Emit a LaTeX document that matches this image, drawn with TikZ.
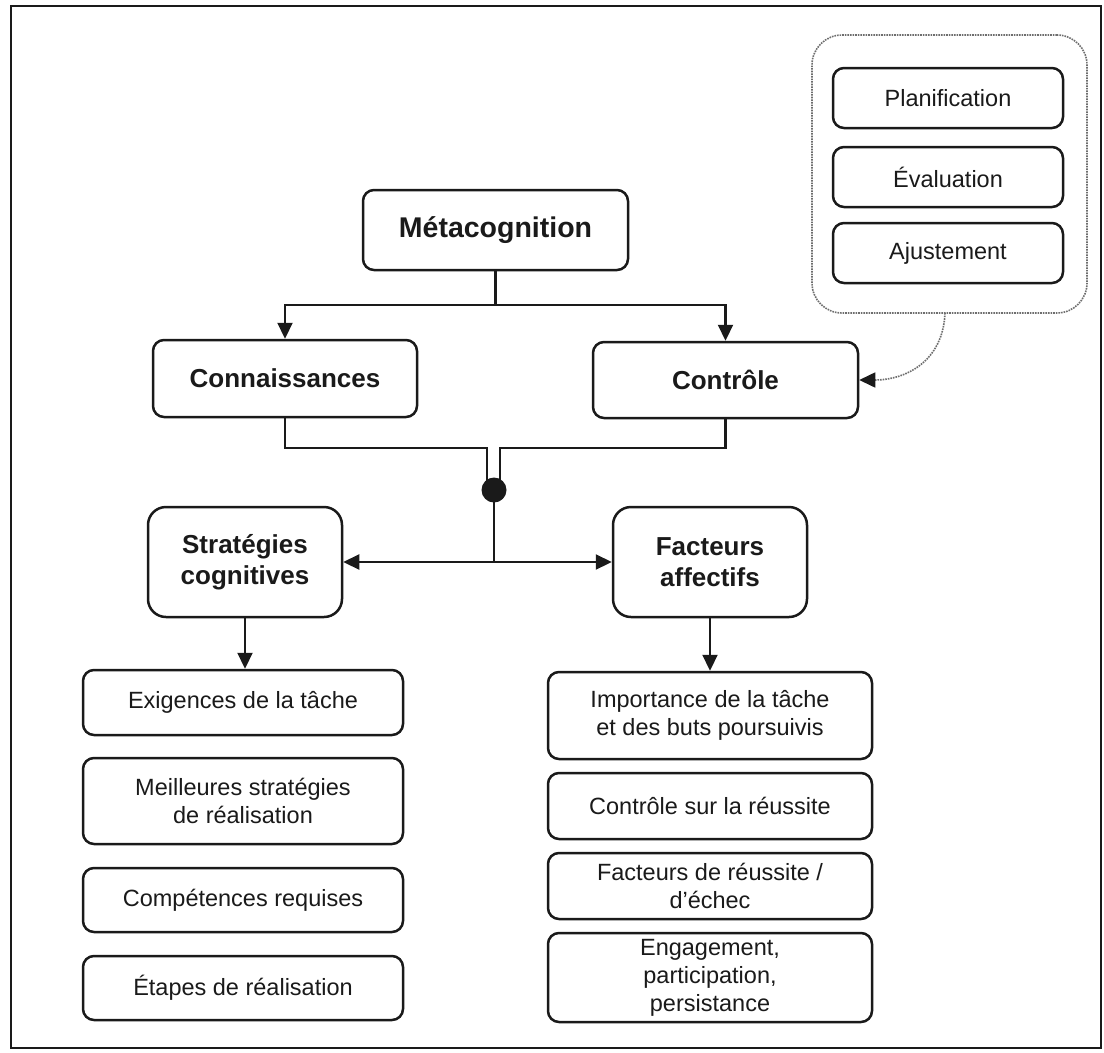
\documentclass[tikz,border=0pt]{standalone}
\usepackage{fontspec}
\setmainfont{Liberation Sans}
\usetikzlibrary{arrows.meta,calc}

\definecolor{ink}{HTML}{1A1A1A}
\definecolor{dotgray}{HTML}{6E6E6E}

\begin{document}
\begin{tikzpicture}[x=1pt,y=-1pt,
  box/.style={draw=ink, line width=2.5pt, rounded corners=11pt, align=center,
    inner sep=0pt, text=ink, font=\fontsize{23.5}{28}\selectfont},
  headbox/.style={box, font=\fontsize{26}{31}\selectfont\bfseries},
  groupbox/.style={draw=dotgray, densely dotted, line width=1.6pt, rounded corners=30pt, inner sep=0pt},
  link/.style={draw=ink, line width=2.2pt},
  tip/.style={-{Triangle[length=16pt,width=15pt]}},
  duotip/.style={{Triangle[length=16pt,width=15pt]}-{Triangle[length=16pt,width=15pt]}},
  feedback/.style={draw=dotgray, densely dotted, line width=1.6pt,
    -{Triangle[length=16pt,width=15pt,color=ink]}},
  hubdot/.style={circle, fill=ink, inner sep=0pt, minimum size=25pt},
]
\useasboundingbox (0,0) rectangle (1104,1053);
\fill[white] (0,0) rectangle (1104,1053);

% frame
\draw[ink, line width=2.6pt] (11,6) rectangle (1101,1048);

% top of the hierarchy
\node[headbox, font=\fontsize{28.5}{32}\selectfont\bfseries, minimum width=265pt, minimum height=80pt] (meta) at (495.5,230) {Métacognition};
\node[headbox, minimum width=264pt, minimum height=77pt] (conn) at (285,378.5) {Connaissances};
\node[headbox, minimum width=265pt, minimum height=76pt] (ctrl) at (725.5,380) {Contrôle};

% second level
\node[headbox, rounded corners=18pt, minimum width=194pt, minimum height=110pt] (strat) at (245,562) {Stratégies\\cognitives};
\node[headbox, rounded corners=18pt, minimum width=194pt, minimum height=110pt] (fact) at (710,562) {Facteurs\\affectifs};

% cognitive strategies column
\node[box, minimum width=320pt, minimum height=65pt] (exig) at (243,702.5) {Exigences de la tâche};
\node[box, minimum width=320pt, minimum height=86pt] (meil) at (243,801) {Meilleures stratégies\\de réalisation};
\node[box, minimum width=320pt, minimum height=64pt] (comp) at (243,900) {Compétences requises};
\node[box, minimum width=320pt, minimum height=64pt] (etap) at (243,988) {Étapes de réalisation};

% affective factors column
\node[box, minimum width=324pt, minimum height=87pt] (imp) at (710,715.5) {Importance de la tâche\\et des buts poursuivis};
\node[box, minimum width=324pt, minimum height=66pt] (ctrs) at (710,806) {Contrôle sur la réussite};
\node[box, minimum width=324pt, minimum height=66pt] (facr) at (710,886) {Facteurs de réussite /\\d'échec};
\node[box, minimum width=324pt, minimum height=89pt] (eng) at (710,977.5) {Engagement,\\participation,\\persistance};

% control processes group
\node[groupbox, minimum width=275pt, minimum height=278pt] (grp) at (949.5,174) {};
\node[box, minimum width=230pt, minimum height=60pt] (plan) at (948,98) {Planification};
\node[box, minimum width=230pt, minimum height=60pt] (eval) at (948,177) {Évaluation};
\node[box, minimum width=230pt, minimum height=60pt] (ajust) at (948,253) {Ajustement};

% split below Métacognition
\coordinate (split) at (495.5,305);
\draw[link] (meta.south) -- (split);
\draw[link, tip] (split) -| (conn.north);
\draw[link, tip] (split) -| (ctrl.north);

% merge into the hub
\coordinate (hub) at (494,490);
\coordinate (mergeL) at (487,448);
\coordinate (mergeR) at (500,448);
\draw[link] (conn.south) |- (mergeL) -- (mergeL |- hub);
\draw[link] (ctrl.south) |- (mergeR) -- (mergeR |- hub);
\node[hubdot] (hubdot) at (hub) {};

% fork to the two branches
\coordinate (fork) at (hub |- strat.east);
\draw[link] (hubdot.center) -- (fork);
\draw[link, duotip] (strat.east) -- (fact.west);

% branches down to the lists
\draw[link, tip] (strat.south) -- (strat.south |- exig.north);
\draw[link, tip] (fact.south) -- (imp.north);

% feedback from the control processes
\coordinate (grpout) at (945,313);
\draw[feedback] (grpout) .. controls (943,362) and (905,380) .. (ctrl.east);
\end{tikzpicture}
\end{document}
